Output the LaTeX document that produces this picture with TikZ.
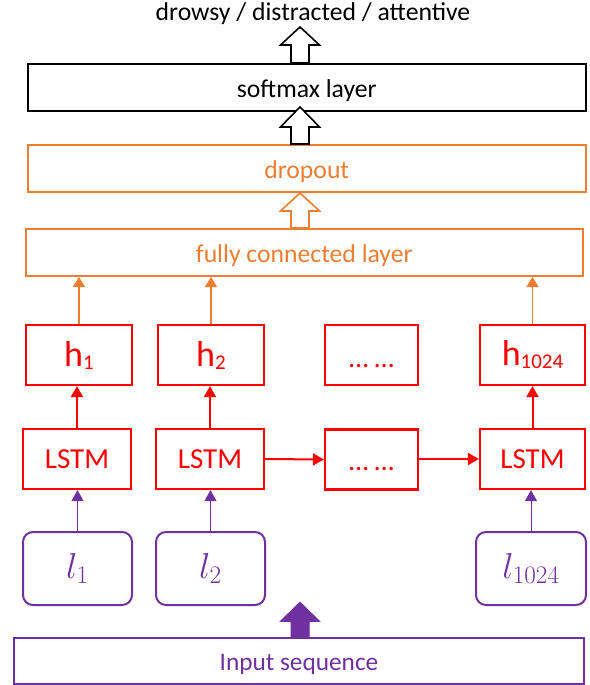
\documentclass[tikz,border=0pt]{standalone}
\usepackage{fix-cm}
\usepackage[no-math]{fontspec}
\setmainfont{Carlito}
\usetikzlibrary{arrows.meta,calc}
\definecolor{accorange}{HTML}{ED7D31}
\definecolor{accpurple}{HTML}{7030A0}
\definecolor{accred}{HTML}{FF0000}
\newcommand\fsz[1]{\fontsize{#1}{#1}\selectfont}
% upward block arrow: style, base point, shaft length, head length
\newcommand\blockup[4]{%
  \draw[#1] (#2) ++(-9,0) -- ++(0,-#3) -- ++(-10.5,0) -- ++(19.5,-#4)
    -- ++(19.5,#4) -- ++(-10.5,0) -- ++(0,#3) -- cycle;}
\begin{document}
\begin{tikzpicture}[x=1pt,y=-1pt,
  layer/.style={draw,line width=2pt,inner sep=0pt,minimum height=47pt,
    minimum width=558pt,font=\fsz{25.7},text height=19pt,text depth=0pt},
  cell/.style={draw=accred,text=accred,line width=2.2pt,inner sep=0pt,
    minimum height=60pt},
  token/.style={draw=accpurple,text=accpurple,line width=2pt,inner sep=0pt,
    rounded corners=10pt,minimum width=109pt,minimum height=73pt,
    font=\fsz{36}},
  redarrow/.style={accred,line width=2pt,-{Triangle[width=12pt,length=11pt]}},
  orangearrow/.style={accorange,line width=1.3pt,-{Triangle[width=12pt,length=10pt]}},
  purplearrow/.style={accpurple,line width=1pt,-{Triangle[width=12pt,length=11pt]}},
]
\useasboundingbox (0,0) rectangle (589,685);

% output label and layers
\node[font=\fsz{25.7},anchor=base] (title) at (313,21) {drowsy / distracted / attentive};
\node[layer] (softmax) at (306.75,87.5) {softmax layer};
\node[layer,draw=accorange,text=accorange] (dropout) at (306.75,168.5) {dropout};
\node[layer,draw=accorange,text=accorange,minimum width=557.5pt] (fc) at (304.25,252.5) {fully connected layer};

% hidden states
\node[cell,minimum width=106pt,font=\fsz{36}] (h1) at (79,355)
  {h\raisebox{-3pt}{\fsz{21}1}};
\node[cell,minimum width=106pt,font=\fsz{36}] (h2) at (211,355)
  {h\raisebox{-3pt}{\fsz{21}2}};
\node[cell,minimum width=93pt,font=\fsz{28},text height=24pt,text depth=0pt]
  (hd) at (371.5,355) {\dots\ \dots};
\node[cell,minimum width=105pt,font=\fsz{36}] (h3) at (532.5,355)
  {h\raisebox{-3pt}{\fsz{21}1024}};

% LSTM cells
\node[cell,minimum width=108pt,font=\fsz{29}] (c1) at (77,459) {LSTM};
\node[cell,minimum width=108pt,font=\fsz{29}] (c2) at (210,459) {LSTM};
\node[cell,minimum width=93pt,font=\fsz{28},text height=22pt,text depth=0pt]
  (cd) at (371.5,459.5) {\dots\ \dots};
\node[cell,minimum width=105pt,font=\fsz{29}] (c3) at (532.5,459) {LSTM};

% input tokens
\node[token] (l1) at (77.5,568.5) {$l_1$};
\node[token] (l2) at (210.5,568.5) {$l_2$};
\node[token,minimum width=110pt] (l3) at (531,568.5) {$l_{1024}$};

\node[draw=accpurple,text=accpurple,line width=1.5pt,inner sep=0pt,
  minimum width=570pt,minimum height=46pt,font=\fsz{25.3},
  text height=19pt,text depth=0pt] (input) at (299,661) {Input sequence};

% connectors
\foreach \c/\h in {c1/h1,c2/h2,c3/h3}
  \draw[redarrow] (\c.north) -- (\c.north |- \h.south);
\draw[redarrow] (c2.east) -- (cd.west);
\draw[redarrow] (cd.east |- c2.east) -- (c3.west);
\foreach \h in {h1,h2,h3}
  \draw[orangearrow] (\h.north) -- (\h.north |- fc.south);
\foreach \l/\c in {l1/c1,l2/c2,l3/c3}
  \draw[purplearrow] (\l.north) -- (\l.north |- \c.south);

% block arrows between the layers
\coordinate (stem) at (300,0);
\blockup{black,line width=1.6pt,fill=white}{stem |- softmax.north}{18}{18}
\blockup{black,line width=1.6pt,fill=white}{stem |- dropout.north}{17}{20}
\blockup{accorange,line width=1.6pt,fill=white}{stem |- fc.north}{17}{18}
\blockup{accpurple,line width=1pt,fill=accpurple}{stem |- input.north}{16}{19}
\end{tikzpicture}
\end{document}
